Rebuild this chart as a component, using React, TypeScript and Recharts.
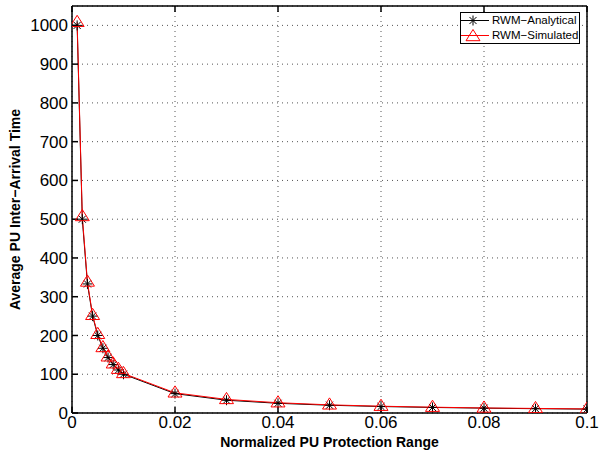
import React from "react";
import {
  LineChart,
  Line,
  XAxis,
  YAxis,
  CartesianGrid,
  Legend,
} from "recharts";

const xValues = [
  0.001, 0.002, 0.003, 0.004, 0.005, 0.006, 0.007, 0.008, 0.009, 0.01,
  0.02, 0.03, 0.04, 0.05, 0.06, 0.07, 0.08, 0.09, 0.1,
];
const analytical = [
  1000, 500, 333, 250, 200, 167, 143, 125, 111, 100,
  50, 33, 25, 20, 16.7, 14.3, 12.5, 11.1, 10,
];
const simulated = [
  1008, 507, 338, 252, 203, 169, 145, 127, 113, 102,
  52, 35, 26.5, 21, 17.5, 15, 13, 11.8, 10.5,
];
const xTicks = [0, 0.02, 0.04, 0.06, 0.08, 0.1];
const yTicks = [0, 100, 200, 300, 400, 500, 600, 700, 800, 900, 1000];
const seriesNames = ["RWM\u2212Analytical", "RWM\u2212Simulated"];

const data = xValues.map((x, i) => ({
  x,
  analytical: analytical[i],
  simulated: simulated[i],
}));

const FONT = "'Liberation Sans', Arial, Helvetica, sans-serif";

const Asterisk = (props: any) => {
  const { cx, cy } = props;
  if (cx == null || cy == null) return null;
  const r = 5;
  const d = r * 0.707;
  return (
    <g stroke="#000" strokeWidth={1}>
      <line x1={cx - r} y1={cy} x2={cx + r} y2={cy} />
      <line x1={cx} y1={cy - r} x2={cx} y2={cy + r} />
      <line x1={cx - d} y1={cy - d} x2={cx + d} y2={cy + d} />
      <line x1={cx - d} y1={cy + d} x2={cx + d} y2={cy - d} />
    </g>
  );
};

const Triangle = (props: any) => {
  const { cx, cy } = props;
  if (cx == null || cy == null) return null;
  const r = 7;
  return (
    <polygon
      points={`${cx},${cy - r} ${cx - r},${cy + r * 0.6} ${cx + r},${cy + r * 0.6}`}
      fill="none"
      stroke="#ff0000"
      strokeWidth={1}
    />
  );
};

const LegendBox = () => (
  <div
    style={{
      position: "absolute",
      left: 460,
      top: 12,
      width: 118,
      height: 30,
      background: "#fff",
      border: "1px solid #000",
      fontFamily: FONT,
      fontSize: 11.5,
      lineHeight: "15px",
      color: "#000",
    }}
  >
    {seriesNames.map((name, i) => (
      <div key={name} style={{ display: "flex", alignItems: "center", height: 15 }}>
        <svg width={28} height={15} style={{ flex: "none" }}>
          <line x1={0} y1={7.5} x2={28} y2={7.5} stroke={i === 0 ? "#000" : "#ff0000"} strokeWidth={1} />
          {i === 0 ? <Asterisk cx={12} cy={7.5} /> : <Triangle cx={12} cy={8.5} />}
        </svg>
        <span style={{ marginLeft: 3, whiteSpace: "nowrap" }}>{name}</span>
      </div>
    ))}
  </div>
);

const fmtX = (v: number) => (v === 0 ? "0" : String(Number(v.toFixed(2))));

export default function App() {
  return (
    <div style={{ position: "absolute", left: 0, top: 0, width: 599, height: 455, background: "#fff" }}>
      <LineChart
        width={599}
        height={455}
        data={data}
        margin={{ top: 5, right: 11, bottom: 0, left: 0 }}
      >
        <CartesianGrid
          xAxisId="bottom"
          yAxisId="left"
          stroke="#555"
          strokeDasharray="1 4"
          strokeWidth={1}
        />
        <XAxis
          xAxisId="bottom"
          dataKey="x"
          type="number"
          domain={[0, 0.1]}
          ticks={xTicks}
          tickFormatter={fmtX}
          allowDataOverflow
          height={42}
          stroke="#000"
          strokeWidth={1.5}
          tickSize={-6}
          tickMargin={9}
          tick={{ fill: "#000", fontSize: 17, fontFamily: FONT }}
          label={{
            value: "Normalized PU Protection Range",
            position: "insideBottom",
            offset: 8,
            style: { fill: "#000", fontSize: 14, fontWeight: "bold", fontFamily: FONT },
          }}
        />
        <XAxis
          xAxisId="top"
          orientation="top"
          dataKey="x"
          type="number"
          domain={[0, 0.1]}
          ticks={xTicks}
          tickFormatter={() => ""}
          height={1}
          stroke="#000"
          strokeWidth={1.5}
          tickSize={-6}
        />
        <YAxis
          yAxisId="left"
          type="number"
          domain={[0, 1050]}
          ticks={yTicks}
          allowDataOverflow
          width={72}
          stroke="#000"
          strokeWidth={1.5}
          tickSize={-6}
          tickMargin={10}
          tick={{ fill: "#000", fontSize: 17, fontFamily: FONT }}
          label={{
            value: "Average PU Inter\u2212Arrival Time",
            angle: -90,
            position: "insideLeft",
            offset: 15,
            style: { fill: "#000", fontSize: 14, fontWeight: "bold", fontFamily: FONT, textAnchor: "middle" },
          }}
        />
        <YAxis
          yAxisId="right"
          orientation="right"
          type="number"
          domain={[0, 1050]}
          ticks={yTicks}
          tickFormatter={() => ""}
          width={1}
          stroke="#000"
          strokeWidth={1.5}
          tickSize={-6}
        />
        <Legend content={<LegendBox />} wrapperStyle={{ position: "absolute", left: 0, top: 0, width: 0, height: 0 }} />
        <Line
          xAxisId="bottom"
          yAxisId="left"
          dataKey="analytical"
          name={seriesNames[0]}
          stroke="#000"
          strokeWidth={1}
          dot={<Asterisk />}
          isAnimationActive={false}
        />
        <Line
          xAxisId="bottom"
          yAxisId="left"
          dataKey="simulated"
          name={seriesNames[1]}
          stroke="#ff0000"
          strokeWidth={1}
          dot={<Triangle />}
          isAnimationActive={false}
        />
      </LineChart>
    </div>
  );
}
